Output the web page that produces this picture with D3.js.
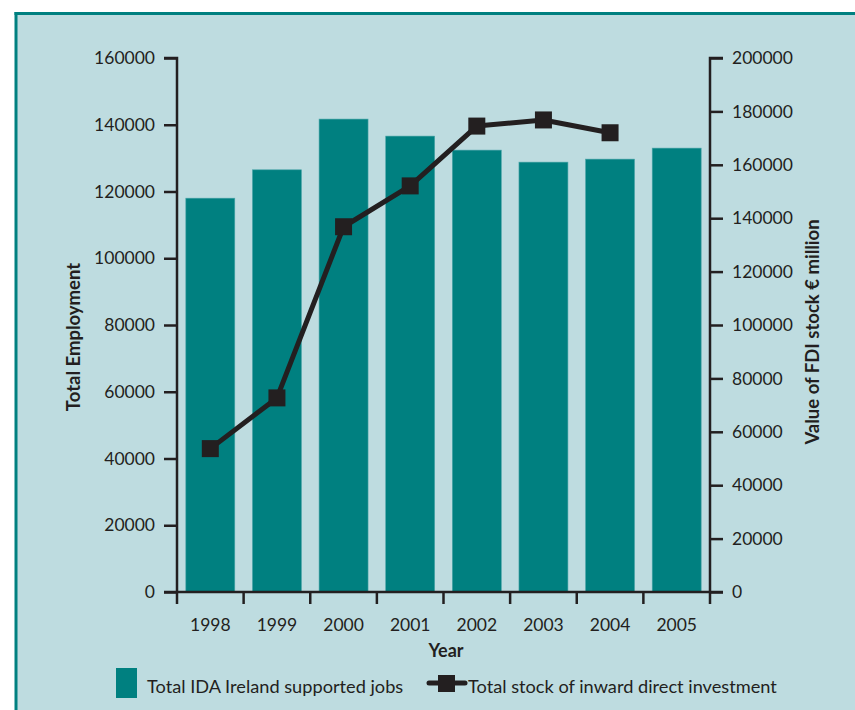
<!DOCTYPE html>
<html>
<head>
<meta charset="utf-8">
<script src="https://cdn.jsdelivr.net/npm/d3@7"></script>
<style>
  html, body { margin: 0; padding: 0; background: #ffffff; }
  svg { display: block; }
  text { font-family: Lato, "Open Sans", sans-serif; fill: #231f20; }
</style>
</head>
<body>
<svg id="chart" width="855" height="710"></svg>
<script>
// Years along the x axis
const years = ["1998", "1999", "2000", "2001", "2002", "2003", "2004", "2005"];
// Total IDA Ireland supported jobs (left axis)
const jobs = [118000, 126500, 141700, 136600, 132400, 128800, 129700, 133000];
// Total stock of inward direct investment, € million (right axis), 1998–2004
const fdiYears = ["1998", "1999", "2000", "2001", "2002", "2003", "2004"];
const fdiStock = [53700, 72700, 136800, 152100, 174500, 176800, 172000];
// Tick values
const leftTicks = [0, 20000, 40000, 60000, 80000, 100000, 120000, 140000, 160000];
const rightTicks = [0, 20000, 40000, 60000, 80000, 100000, 120000, 140000, 160000, 180000, 200000];

const teal = "#008080";
const ink = "#231f20";
const svg = d3.select("#chart");

// panel background with teal frame on top and left
svg.append("rect").attr("x", 16).attr("y", 13).attr("width", 855 - 16).attr("height", 710 - 13)
  .attr("fill", "#bedce0");
svg.append("line").attr("x1", 16).attr("x2", 16).attr("y1", 12).attr("y2", 710)
  .attr("stroke", teal).attr("stroke-width", 3);
svg.append("line").attr("x1", 14.5).attr("x2", 855).attr("y1", 13.5).attr("y2", 13.5)
  .attr("stroke", teal).attr("stroke-width", 3);

const x0 = 177, x1 = 710, yBase = 592, yTop = 58;

const x = d3.scaleBand().domain(years).range([x0, x1]).paddingInner(0.265).paddingOuter(0.1325);
const yL = d3.scaleLinear().domain([0, 160000]).range([yBase, yTop]);
const yR = d3.scaleLinear().domain([0, 200000]).range([yBase, yTop]);

// bars
svg.append("g").selectAll("rect").data(years).join("rect")
  .attr("x", d => x(d))
  .attr("width", x.bandwidth())
  .attr("y", (d, i) => yL(jobs[i]))
  .attr("height", (d, i) => yBase - yL(jobs[i]))
  .attr("fill", teal)
  .attr("stroke", "#4ba5a8").attr("stroke-width", 0.6);

// left axis
const gL = svg.append("g").attr("transform", `translate(${x0},0)`)
  .call(d3.axisLeft(yL).tickValues(leftTicks).tickFormat(d3.format("d")).tickSize(13).tickPadding(9));
gL.select(".domain").attr("d", `M-13,${yTop}H0V${yBase + 12}`);

// right axis
const gR = svg.append("g").attr("transform", `translate(${x1},0)`)
  .call(d3.axisRight(yR).tickValues(rightTicks).tickFormat(d3.format("d")).tickSize(13).tickPadding(9));
gR.select(".domain").attr("d", `M13,${yTop}H0V${yBase + 12}`);

// bottom axis: ticks at band boundaries, labels at band centres
const gB = svg.append("g");
gB.append("line").attr("x1", x0 - 13).attr("x2", x1 + 13).attr("y1", yBase).attr("y2", yBase);
const step = x.step();
const bounds = d3.range(1, years.length).map(i => x0 + x.step() * x.paddingOuter() - step * x.paddingInner() / 2 + i * step);
gB.selectAll("line.tk").data(bounds).join("line").attr("class", "tk")
  .attr("x1", d => d).attr("x2", d => d).attr("y1", yBase).attr("y2", yBase + 12);
gB.selectAll("text").data(years).join("text")
  .attr("x", d => x(d) + x.bandwidth() / 2).attr("y", 631)
  .attr("text-anchor", "middle").attr("font-size", 17.5).text(d => d);

[gL, gR].forEach(g => {
  g.selectAll("text").attr("font-size", 17.5).attr("fill", ink).style("font-family", "Lato, 'Open Sans', sans-serif");
  g.selectAll(".tick line").attr("stroke", ink).attr("stroke-width", 2.5);
  g.select(".domain").attr("stroke", ink).attr("stroke-width", 2.5).attr("fill", "none");
});
gB.selectAll("line").attr("stroke", ink).attr("stroke-width", 2.5);

// FDI line with square markers
const cx = d => x(d) + x.bandwidth() / 2;
const line = d3.line().x((d, i) => cx(fdiYears[i])).y(d => yR(d));
svg.append("path").datum(fdiStock).attr("d", line)
  .attr("fill", "none").attr("stroke", ink).attr("stroke-width", 5).attr("stroke-linejoin", "round");
svg.append("g").selectAll("rect").data(fdiStock).join("rect")
  .attr("x", (d, i) => cx(fdiYears[i]) - 8.5)
  .attr("y", d => yR(d) - 8.5)
  .attr("width", 17).attr("height", 17).attr("fill", ink);

// axis titles
svg.append("text").attr("transform", "translate(80,337) rotate(-90)")
  .attr("text-anchor", "middle").attr("font-size", 18.5).attr("font-weight", "bold").text("Total Employment");
svg.append("text").attr("transform", "translate(819,332) rotate(-90)")
  .attr("text-anchor", "middle").attr("font-size", 18.5).attr("font-weight", "bold").text("Value of FDI stock € million");
svg.append("text").attr("x", 446).attr("y", 657)
  .attr("text-anchor", "middle").attr("font-size", 18).attr("font-weight", "bold").text("Year");

// legend
svg.append("rect").attr("x", 116).attr("y", 668).attr("width", 21).attr("height", 30).attr("fill", teal);
svg.append("text").attr("x", 147).attr("y", 693).attr("font-size", 18.2).text("Total IDA Ireland supported jobs");
svg.append("line").attr("x1", 429).attr("x2", 465).attr("y1", 683).attr("y2", 683)
  .attr("stroke", ink).attr("stroke-width", 5).attr("stroke-linecap", "round");
svg.append("rect").attr("x", 438).attr("y", 675).attr("width", 17).attr("height", 17).attr("fill", ink);
svg.append("text").attr("x", 468).attr("y", 693).attr("font-size", 18.2).text("Total stock of inward direct investment");
</script>
</body>
</html>
